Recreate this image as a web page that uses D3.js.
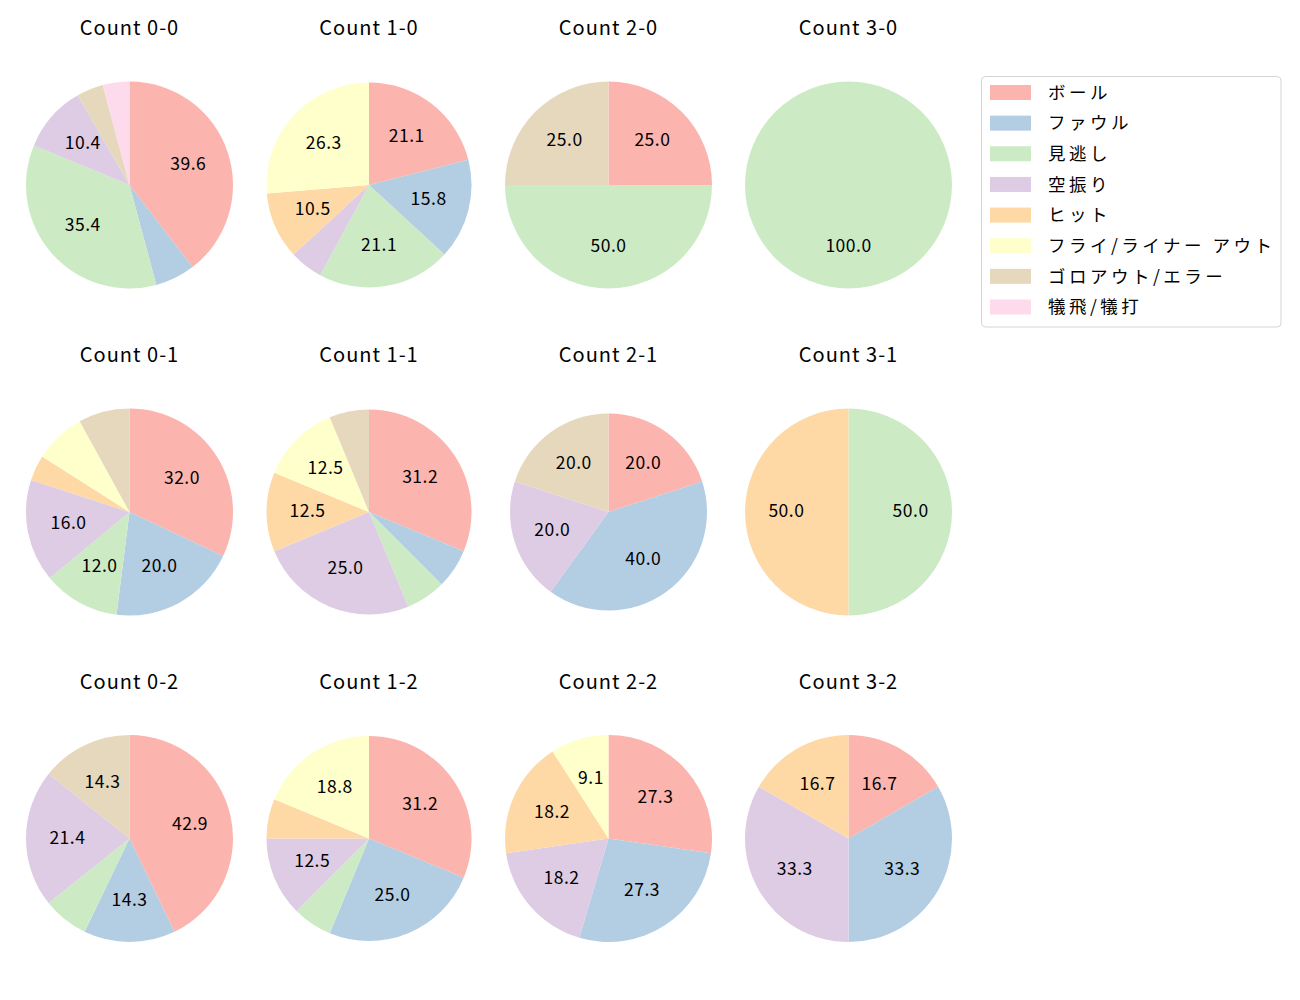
<!DOCTYPE html>
<html>
<head>
<meta charset="utf-8">
<script src="https://cdn.jsdelivr.net/npm/d3@7"></script>
<style>
  html, body { margin: 0; padding: 0; background: #fff; }
  svg { display: block; }
  text { font-family: "Noto Sans CJK JP", "Noto Sans", sans-serif; fill: #000; }
</style>
</head>
<body>
<svg id="chart" width="1300" height="1000"></svg>
<script>
// ---- data ----
const categories = ["ボール", "ファウル", "見逃し", "空振り", "ヒット", "フライ/ライナー アウト", "ゴロアウト/エラー", "犠飛/犠打"];
const colors = ["#fbb4ae", "#b3cde3", "#ccebc5", "#decbe4", "#fed9a6", "#ffffcc", "#e5d8bd", "#fddaec"];
const panelTitles = ["Count 0-0", "Count 1-0", "Count 2-0", "Count 3-0",
                     "Count 0-1", "Count 1-1", "Count 2-1", "Count 3-1",
                     "Count 0-2", "Count 1-2", "Count 2-2", "Count 3-2"];
const count00 = [19, 3, 17, 5, 0, 0, 2, 2];
const count10 = [4, 3, 4, 1, 2, 5, 0, 0];
const count20 = [1, 0, 2, 0, 0, 0, 1, 0];
const count30 = [0, 0, 1, 0, 0, 0, 0, 0];
const count01 = [8, 5, 3, 4, 1, 2, 2, 0];
const count11 = [5, 1, 1, 4, 2, 2, 1, 0];
const count21 = [1, 2, 0, 1, 0, 0, 1, 0];
const count31 = [0, 0, 1, 0, 1, 0, 0, 0];
const count02 = [6, 2, 1, 3, 0, 0, 2, 0];
const count12 = [5, 4, 1, 2, 1, 3, 0, 0];
const count22 = [3, 3, 0, 2, 2, 1, 0, 0];
const count32 = [1, 2, 0, 2, 1, 0, 0, 0];
const panelData = [count00, count10, count20, count30,
                   count01, count11, count21, count31,
                   count02, count12, count22, count32];
const labelThreshold = 8.5; // percentages below this are not labelled

// ---- layout ----
const colX = [129.5, 369, 608.5, 848.5];
const rowY = [185, 512, 838.5];
const titleY = [28, 355, 682];
const panelRadius = [103.5, 102.5, 103.5, 103.5,
                     103.5, 102.5, 98.5, 103.5,
                     103.5, 102.5, 103.5, 103.5];

// python-like round-half-even formatting with 1 decimal
function fmtPct(p) {
  const s = p * 10;
  const f = Math.floor(s);
  const diff = s - f;
  let r;
  if (Math.abs(diff - 0.5) < 1e-9) r = (f % 2 === 0) ? f : f + 1;
  else r = Math.round(s);
  return (r / 10).toFixed(1);
}

const svg = d3.select("#chart");
const color = d3.scaleOrdinal().domain(categories).range(colors);
const pie = d3.pie().sort(null).value(d => d.value).startAngle(0).endAngle(2 * Math.PI);

panelData.forEach((vals, i) => {
  const col = i % 4, row = Math.floor(i / 4);
  const cx = colX[col], cy = rowY[row], r = panelRadius[i];
  const total = d3.sum(vals);
  const items = categories.map((c, k) => ({ cat: c, value: vals[k] }));
  const arcs = pie(items).filter(a => a.data.value > 0);
  const arc = d3.arc().innerRadius(0).outerRadius(r);
  const labelArc = d3.arc().innerRadius(r * 0.6).outerRadius(r * 0.6);

  const g = svg.append("g").attr("transform", `translate(${cx},${cy})`);
  g.selectAll("path").data(arcs).join("path")
    .attr("d", arc)
    .attr("fill", d => color(d.data.cat));

  g.selectAll("text.lbl").data(arcs.filter(a => a.data.value / total * 100 >= labelThreshold))
    .join("text").attr("class", "lbl")
    .attr("transform", d => `translate(${labelArc.centroid(d)})`)
    .attr("text-anchor", "middle")
    .attr("dy", "0.3em")
    .style("font-size", "17.5px")
    .style("letter-spacing", "0.5px")
    .text(d => fmtPct(d.data.value / total * 100));

  svg.append("text")
    .attr("x", cx).attr("y", titleY[row])
    .attr("text-anchor", "middle")
    .attr("dy", "0.36em")
    .style("font-size", "20px")
    .style("letter-spacing", "1px")
    .text(panelTitles[i]);
});

// ---- legend ----
const lg = svg.append("g");
lg.append("rect")
  .attr("x", 981.5).attr("y", 76.5).attr("width", 299.5).attr("height", 250.5)
  .attr("rx", 4).attr("ry", 4)
  .attr("fill", "#fff").attr("stroke", "#d5d5d5").attr("stroke-width", 1);
const legY = d3.scaleLinear().domain([0, categories.length - 1]).range([92.5, 307]);
categories.forEach((c, k) => {
  lg.append("rect")
    .attr("x", 990).attr("y", legY(k) - 7.5)
    .attr("width", 41).attr("height", 15)
    .attr("fill", color(c));
  lg.append("text")
    .attr("x", 1048).attr("y", legY(k))
    .attr("dy", "0.36em")
    .style("font-size", "17.5px")
    .style("letter-spacing", "3.5px")
    .text(c);
});
</script>
</body>
</html>
